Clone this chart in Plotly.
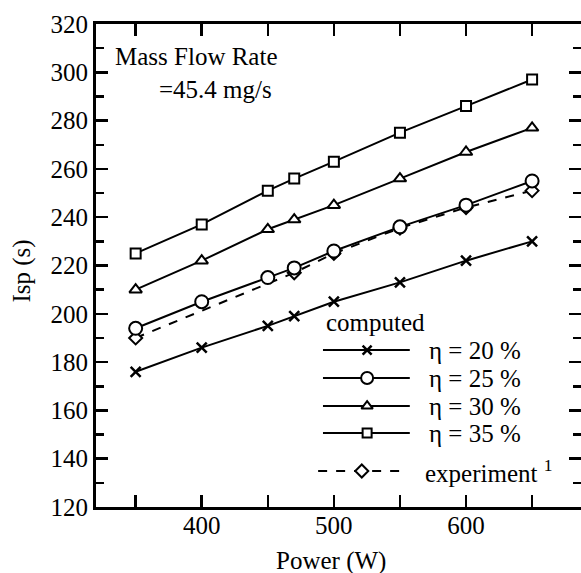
import plotly.graph_objects as go

# ---------------- data ----------------
power = [350, 400, 450, 470, 500, 550, 600, 650]
isp_eta20 = [176, 186, 195, 199, 205, 213, 222, 230]
isp_eta25 = [194, 205, 215, 219, 226, 236, 245, 255]
isp_eta30 = [210, 222, 235, 239, 245, 256, 267, 277]
isp_eta35 = [225, 237, 251, 256, 263, 275, 286, 297]
power_exp = [350, 470, 500, 550, 600, 650]
isp_exp = [190, 217, 225, 235.5, 244, 251]

series_names = ["η = 20 %", "η = 25 %", "η = 30 %", "η = 35 %"]
exp_name = "experiment <sup>1</sup>"
legend_title = "computed"
note_line1 = "Mass Flow Rate"
note_line2 = "=45.4 mg/s"
x_title = "Power (W)"
y_title = "Isp (s)"
x_ticks = [400, 500, 600]
y_ticks = [120, 140, 160, 180, 200, 220, 240, 260, 280, 300, 320]

FONT = "Liberation Serif"
BLACK = "black"
FS = 25

fig = go.Figure()

# experiment (drawn first so computed open markers sit on top)
fig.add_trace(go.Scatter(
    x=power_exp, y=isp_exp, mode="lines+markers",
    line=dict(color=BLACK, width=2, dash="dash"),
    marker=dict(symbol="diamond", size=10, color="white",
                line=dict(color=BLACK, width=2)),
    showlegend=False, hoverinfo="skip"))

styles = [
    dict(symbol="x-thin", size=10, color=BLACK, line=dict(color=BLACK, width=2.5)),
    dict(symbol="circle", size=13, color="white", line=dict(color=BLACK, width=2)),
    dict(symbol="triangle-up", size=11, color="white", line=dict(color=BLACK, width=2)),
    dict(symbol="square", size=10, color="white", line=dict(color=BLACK, width=2)),
]
for ys, st in zip([isp_eta20, isp_eta25, isp_eta30, isp_eta35], styles):
    fig.add_trace(go.Scatter(
        x=power, y=ys, mode="lines+markers",
        line=dict(color=BLACK, width=2), marker=st,
        showlegend=False, hoverinfo="skip"))

# dummy trace to create right-side tick axis
fig.add_trace(go.Scatter(x=[None], y=[None], yaxis="y2", showlegend=False,
                         hoverinfo="skip"))

# ---------- hand-made legend on an overlay axis (fractions of plot area) ----------
leg_rows = [0.325, 0.267, 0.209, 0.153]
for yy, st in zip(leg_rows, styles):
    fig.add_trace(go.Scatter(
        x=[0.468, 0.647], y=[yy, yy], mode="lines", xaxis="x2", yaxis="y3",
        line=dict(color=BLACK, width=2), showlegend=False, hoverinfo="skip"))
    fig.add_trace(go.Scatter(
        x=[0.559], y=[yy], mode="markers", xaxis="x2", yaxis="y3",
        marker=dict(st, size=st["size"] - 1), showlegend=False, hoverinfo="skip"))
exp_row = 0.0745
fig.add_trace(go.Scatter(
    x=[0.458, 0.637], y=[exp_row, exp_row], mode="lines", xaxis="x2", yaxis="y3",
    line=dict(color=BLACK, width=2, dash="dash"), showlegend=False, hoverinfo="skip"))
fig.add_trace(go.Scatter(
    x=[0.548], y=[exp_row], mode="markers", xaxis="x2", yaxis="y3",
    marker=dict(symbol="diamond", size=10, color="white",
                line=dict(color=BLACK, width=2)),
    showlegend=False, hoverinfo="skip"))

annotations = [
    dict(text=legend_title, x=0.470, y=0.383, xanchor="left", yanchor="middle"),
]
for yy, name in zip(leg_rows, series_names):
    annotations.append(dict(text=name, x=0.683, y=yy, xanchor="left", yanchor="middle"))
annotations.append(dict(text=exp_name, x=0.674, y=exp_row, xanchor="left", yanchor="middle"))
annotations.append(dict(text=note_line1, x=0.036, y=0.932, xanchor="left", yanchor="middle"))
annotations.append(dict(text=note_line2, x=0.126, y=0.865, xanchor="left", yanchor="middle"))
annotations.append(dict(text=x_title, x=0.485, y=-0.112, xanchor="center", yanchor="middle"))
annotations.append(dict(text=y_title, x=-0.153, y=0.489, xanchor="center", yanchor="middle",
                        textangle=-90))
for a in annotations:
    a.update(xref="paper", yref="paper", showarrow=False,
             font=dict(family=FONT, size=FS, color=BLACK))

tickfont = dict(family=FONT, size=FS, color=BLACK)

fig.update_layout(
    width=581, height=573,
    margin=dict(l=96, r=0, t=24, b=66),
    paper_bgcolor="white", plot_bgcolor="white",
    font=dict(family=FONT, size=FS, color=BLACK),
    showlegend=False,
    annotations=annotations,
    xaxis=dict(
        range=[320, 687], tickvals=x_ticks,
        ticks="inside", ticklen=12, tickwidth=2.5, tickcolor=BLACK,
        minor=dict(tickvals=[350, 450, 550, 650], ticks="inside", ticklen=8,
                   tickwidth=2.5, tickcolor=BLACK, showgrid=False),
        showline=True, linewidth=3, linecolor=BLACK, mirror="allticks",
        showgrid=False, zeroline=False, tickfont=tickfont,
        automargin=False, ticklabelstandoff=-6,
    ),
    yaxis=dict(
        range=[120, 320], tickvals=y_ticks,
        ticks="inside", ticklen=12, tickwidth=2.5, tickcolor=BLACK,
        minor=dict(dtick=10, ticks="inside", ticklen=8, tickwidth=2.5,
                   tickcolor=BLACK, showgrid=False),
        showline=True, linewidth=3, linecolor=BLACK,
        showgrid=False, zeroline=False, tickfont=tickfont,
        automargin=False,
    ),
    yaxis2=dict(
        range=[120, 320], overlaying="y", side="right",
        tickvals=y_ticks,
        ticks="inside", ticklen=12, tickwidth=2.5, tickcolor=BLACK,
        minor=dict(dtick=10, ticks="inside", ticklen=8, tickwidth=2.5,
                   tickcolor=BLACK, showgrid=False),
        showline=False, showgrid=False, zeroline=False, showticklabels=False,
        automargin=False,
    ),
    xaxis2=dict(range=[0, 1], overlaying="x", visible=False),
    yaxis3=dict(range=[0, 1], overlaying="y", visible=False),
)

fig.write_html("out.html",
               config={"displayModeBar": False, "staticPlot": True},
               post_script="document.body.style.margin='0';"
                           "document.body.style.overflow='hidden';")
